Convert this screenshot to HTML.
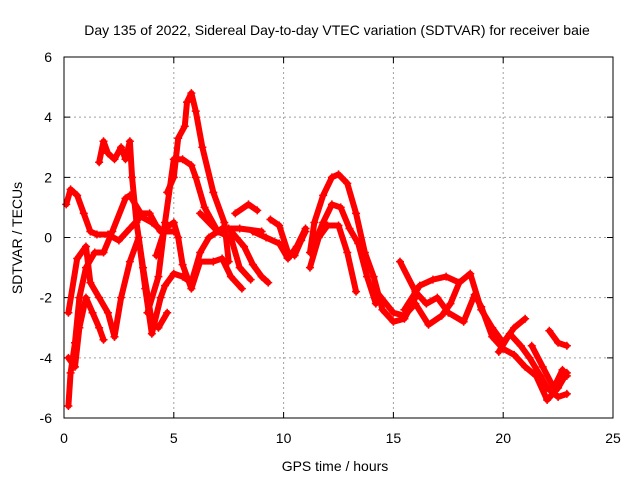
<!DOCTYPE html>
<html><head><meta charset="utf-8"><style>
body{margin:0;background:#fff}
svg{display:block;font-family:"Liberation Sans",sans-serif}
</style></head><body>
<svg id="chart" width="640" height="480" viewBox="0 0 640 480">
<rect width="640" height="480" fill="#fff"/>
<text x="337" y="35" text-anchor="middle" font-size="14">Day 135 of 2022, Sidereal Day-to-day VTEC variation (SDTVAR) for receiver baie</text>
<text x="335" y="471" text-anchor="middle" font-size="14">GPS time / hours</text>
<text transform="translate(22,238) rotate(-90)" text-anchor="middle" font-size="14">SDTVAR / TECUs</text>
<g id="grid"></g>
<g id="axes"></g>
<g id="series"></g>
<rect x="64" y="57" width="549" height="361" fill="none" stroke="#000" stroke-width="1"/>
</svg>
<script>
const xTicks=[0,5,10,15,20,25];
const yTicks=[6,4,2,0,-2,-4,-6];
const traceA=[[0.1,1.1],[0.3,1.6],[0.6,1.4],[0.9,0.8],[1.2,0.2],[1.5,0.1],[2,0.1],[2.5,-0.1],[3,0.3],[3.5,0.7],[4,0.5],[4.5,0.2],[5,0.2]];
const traceB=[[0.2,-5.6],[0.3,-4.5],[0.5,-3.5],[0.7,-2],[1,-1],[1.4,-0.5],[1.8,-0.5],[2.2,0.2],[2.8,1.3],[3,1.4],[3.5,0.8],[3.9,0.8],[4.2,0.4],[4.4,0.2]];
const traceC=[[0.2,-4],[0.5,-4.3],[0.7,-3],[1,-2],[1.3,-2.5],[1.6,-3.0],[1.8,-3.4]];
const traceD=[[0.2,-2.5],[0.6,-0.7],[1,-0.3],[1.2,-1.5],[1.6,-2],[2,-2.5],[2.3,-3.3]];
const traceE=[[1.6,2.5],[1.8,3.2],[2,2.8],[2.3,2.6],[2.6,3.0],[2.8,2.6],[3.0,3.2],[3.1,2],[3.3,0.5],[3.6,-1],[4,-2.8],[4.3,-3],[4.7,-2.5]];
const traceF=[[2.3,-3.3],[2.6,-2],[3,-0.8],[3.4,0],[3.7,-1.7],[4.0,-3.2],[4.4,-2.0],[4.6,-1.6],[5.0,-1.2],[5.4,-1.3],[5.8,-1.5],[6.2,-0.5],[6.6,0],[7.2,0.3],[8,0.3],[9,0.2]];
const traceG=[[3.8,-2.5],[4.3,-1.3],[4.6,0.5],[5,2.6],[5.4,2.6],[5.8,2.4],[6,2.0],[6.4,1.0],[7,0.2],[7.6,0],[8,-1],[8.5,-1.4]];
const traceH=[[4.7,1.5],[5,2],[5.2,3.3],[5.5,3.7],[5.6,4.5],[5.8,4.8],[6,4.2],[6.3,3.0],[6.8,1.5],[7.3,0.5],[7.5,-0.8]];
const traceI=[[4.2,-0.6],[4.6,0.3],[5.0,0.5],[5.2,0],[5.4,-0.9],[5.8,-1.7],[6.2,-0.8],[6.8,-0.8],[7.2,-0.7],[7.6,-1.3],[8.1,-1.7]];
const traceJ=[[6.2,0.8],[7,0.2],[7.5,0.3],[8.2,-0.3],[8.6,-0.9],[9,-1.3],[9.3,-1.5]];
const traceK=[[7.8,0.8],[8.4,1.1],[8.8,0.9]];
const traceL=[[8.6,0.2],[9.2,0],[9.8,-0.2],[10.2,-0.7],[10.6,-0.3],[11,0.3]];
const traceM=[[9.4,0.6],[9.8,0.4],[10.2,-0.5],[10.5,-0.6],[10.8,-0.1],[11.0,0.2]];
const traceN=[[11.2,-0.5],[11.4,0.5],[11.8,1.4],[12.2,2.0],[12.5,2.1],[12.9,1.8],[13.3,0.8],[13.7,-0.5],[14.1,-1.3],[14.5,-2.4],[15,-2.8],[15.5,-2.7],[16,-2.0]];
const traceO=[[11.4,-0.2],[11.8,0.5],[12.2,1.1],[12.6,1.0],[13,0.3],[13.4,-0.2],[13.8,-1.3],[14.2,-2.2]];
const traceP=[[11.2,-1.0],[11.6,0],[12.0,0.4],[12.5,0.4],[12.9,-0.5],[13.3,-1.8]];
const traceR=[[14,-1.6],[15,-2.5],[15.5,-2.6],[16,-2.2],[16.6,-2.9],[17.2,-2.6],[17.6,-2.2],[18.0,-1.5]];
const traceS=[[15.3,-0.8],[16.0,-1.8],[16.5,-2.2],[17.0,-2.0],[17.5,-2.5],[18.2,-2.8],[18.7,-1.9],[19.0,-2.3],[19.5,-3.3],[20.0,-3.7],[20.5,-3.9],[21,-4.3],[21.5,-4.6],[22,-5.4],[22.5,-5.0],[22.9,-4.5]];
const traceT=[[15.5,-2.4],[16.2,-1.6],[16.8,-1.4],[17.4,-1.3],[18,-1.5],[18.5,-1.2],[19,-2.4],[19.5,-3.0],[20,-3.5],[20.5,-3.0],[21,-2.7]];
const traceU=[[19.8,-3.8],[20.3,-3.2],[20.8,-3.6],[21.2,-4.0],[21.7,-4.6],[22,-5.0],[22.5,-5.3],[22.9,-5.2]];
const traceV=[[22.1,-3.1],[22.5,-3.5],[22.9,-3.6]];
const traceW=[[21.3,-3.6],[21.8,-4.3],[22.3,-5.0],[22.7,-4.4],[22.9,-4.6]];
const traces=[traceA,traceB,traceC,traceD,traceE,traceF,traceG,traceH,traceI,traceJ,traceK,traceL,traceM,traceN,traceO,traceP,traceR,traceS,traceT,traceU,traceV,traceW];

const X0=64,X1=613,Y0=418,Y1=57;
const xs=h=>X0+(h-0)/25*(X1-X0);
const ys=v=>Y0-(v+6)/12*(Y0-Y1);
const NS="http://www.w3.org/2000/svg";
const grid=document.getElementById('grid'),axes=document.getElementById('axes'),ser=document.getElementById('series');
function mk(tag,attrs,parent){const e=document.createElementNS(NS,tag);for(const k in attrs)e.setAttribute(k,attrs[k]);parent.appendChild(e);return e;}
xTicks.forEach(t=>{
  const x=xs(t);
  if(t>0&&t<25){const g=mk('line',{x1:x,x2:x,y1:Y1,y2:Y0,stroke:'#a0a0a0','stroke-dasharray':'2,3'},grid);
  
  }
  const tk=mk('path',{d:`M${x},${Y0}v-6M${x},${Y1}v6`,stroke:'#000'},axes);
  
  
  const l=mk('text',{x:x,y:443,'text-anchor':'middle','font-size':14},axes);
  l.textContent=t;
  
  
});
yTicks.forEach(t=>{
  const y=ys(t);
  if(t>-6&&t<6){const g=mk('line',{x1:X0,x2:X1,y1:y,y2:y,stroke:'#a0a0a0','stroke-dasharray':'2,3'},grid);
  
  }
  const tk=mk('path',{d:`M${X0},${y}h6M${X1},${y}h-6`,stroke:'#000'},axes);
  
  
  const l=mk('text',{x:52,y:y+5,'text-anchor':'end','font-size':14},axes);
  l.textContent=t;
  
  
});
traces.forEach((tr,i)=>{
  const pts=tr.map(p=>xs(p[0])+','+ys(p[1])).join(' ');
  const pl=mk('polyline',{points:pts,fill:'none',stroke:'#ff0000','stroke-width':6,'stroke-linejoin':'round','stroke-linecap':'round'},ser);
  
  
  tr.forEach(p=>{
    const m=mk('path',{d:`M${xs(p[0])-4},${ys(p[1])}h8M${xs(p[0])},${ys(p[1])-4}v8`,stroke:'#ff0000','stroke-width':1.5},ser);
    
    
  });
});
</script>
</body></html>
